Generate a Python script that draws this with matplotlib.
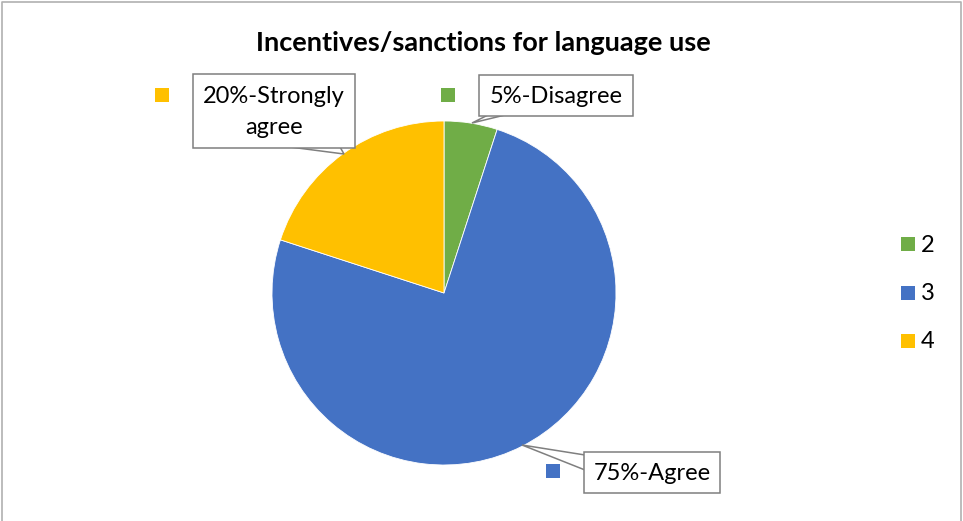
import numpy as np
import matplotlib
matplotlib.use('Agg')
import matplotlib.pyplot as plt
from matplotlib.patches import Rectangle, Polygon

plt.rcParams['font.family'] = ['Lato', 'DejaVu Sans']

# data
categories = ['2', '3', '4']
values = [5, 75, 20]
label_texts = ['5%-Disagree', '75%-Agree', '20%-Strongly\nagree']
colors = ['#70AD47', '#4472C4', '#FFC000']
title = 'Incentives/sanctions for language use'

W, H = 963, 521

def fy(y):
    # image pixel row -> axes y
    return H - y

fig = plt.figure(figsize=(W / 100, H / 100), dpi=100)
ax = fig.add_axes([0, 0, 1, 1])

# pie
cx, cy, r = 444, fy(293), 172
ax.pie(values, colors=colors, startangle=90, counterclock=False,
       center=(cx, cy), radius=r, frame=True,
       wedgeprops=dict(edgecolor='white', linewidth=0.6))
ax.set_xlim(0, W)
ax.set_ylim(0, H)
ax.axis('off')
ax.set_aspect('equal')

# chart border (bottom edge is cut off in the original)
ax.plot([2, 2, 961, 961], [0, fy(2), fy(2), 0], color='#B0B0B0', lw=1.2)

ax.text(483, fy(43), title, ha='center', va='center', fontsize=19.5, fontweight='bold')

# data label callouts: box (x0, y0, x1, y1), pointer triangle, key square
boxes = [(479, 75, 633, 116), (584, 452, 720, 493), (193, 74, 355, 148)]
pointers = [[(488, 115), (505, 115), (472, 123)],
            [(585, 455), (585, 470), (522, 445)],
            [(290, 147), (340, 147), (344, 154)]]
keys = [(441, 88), (546, 464), (155, 88)]
for i in range(len(values)):
    x0, y0, x1, y1 = boxes[i]
    tri = Polygon([(px, fy(py)) for px, py in pointers[i]], closed=True,
                  fc='white', ec='#7F7F7F', lw=1.1, zorder=3)
    ax.add_patch(tri)
    ax.add_patch(Rectangle((x0, fy(y1)), x1 - x0, y1 - y0, fc='white',
                           ec='#7F7F7F', lw=1.1, zorder=4))
    ax.text((x0 + x1) / 2, fy((y0 + y1) / 2 + 1), label_texts[i], ha='center', va='center',
            fontsize=17, linespacing=1.55, zorder=5)
    kx, ky = keys[i]
    ax.add_patch(Rectangle((kx, fy(ky + 14)), 14, 14, fc=colors[i], ec='none', zorder=5))

# legend
for i, cat in enumerate(categories):
    ly = 244 + i * 48.5
    ax.add_patch(Rectangle((901, fy(ly + 7)), 14, 14, fc=colors[i], ec='none'))
    ax.text(921, fy(ly + 1), cat, ha='left', va='center', fontsize=17)

fig.savefig('out.png', dpi=100)
